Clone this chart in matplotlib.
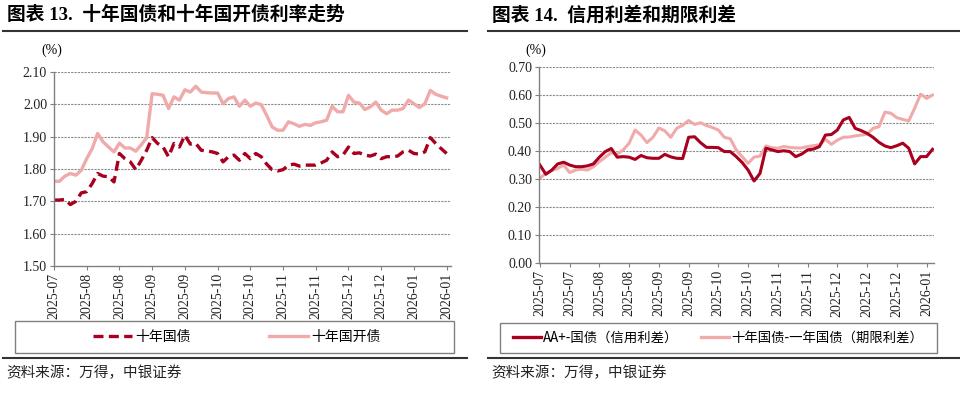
import numpy as np
import matplotlib
matplotlib.use('Agg')
import matplotlib.pyplot as plt
from matplotlib.lines import Line2D
from matplotlib.patches import Rectangle

left_ticks = ['2025-07', '2025-08', '2025-08', '2025-09', '2025-09', '2025-10', '2025-10',
              '2025-11', '2025-11', '2025-12', '2025-12', '2026-01', '2026-01']
gov10 = [1.704, 1.704, 1.706, 1.690, 1.700, 1.726, 1.730, 1.755, 1.786, 1.778, 1.776, 1.760,
         1.848, 1.832, 1.822, 1.798, 1.827, 1.858, 1.897, 1.879, 1.868, 1.838, 1.879, 1.868,
         1.904, 1.877, 1.879, 1.858, 1.856, 1.853, 1.848, 1.822, 1.838, 1.843, 1.827, 1.848,
         1.832, 1.848, 1.838, 1.815, 1.798, 1.794, 1.798, 1.812, 1.815, 1.809, 1.812, 1.812,
         1.812, 1.819, 1.827, 1.853, 1.838, 1.843, 1.868, 1.848, 1.850, 1.843, 1.840, 1.846,
         1.832, 1.838, 1.838, 1.840, 1.853, 1.858, 1.848, 1.846, 1.853, 1.897, 1.879, 1.863,
         1.848]
cdb10 = [1.762, 1.762, 1.778, 1.786, 1.781, 1.796, 1.832, 1.863, 1.910, 1.884, 1.868, 1.853,
         1.880, 1.865, 1.865, 1.855, 1.875, 1.897, 2.033, 2.031, 2.028, 1.987, 2.023, 2.013,
         2.045, 2.038, 2.056, 2.038, 2.036, 2.035, 2.035, 2.002, 2.018, 2.023, 1.994, 2.013,
         1.994, 2.004, 1.999, 1.966, 1.930, 1.920, 1.920, 1.946, 1.940, 1.932, 1.938, 1.935,
         1.943, 1.946, 1.951, 1.994, 1.977, 1.977, 2.028, 2.007, 2.004, 1.984, 1.992, 2.007,
         1.982, 1.971, 1.982, 1.982, 1.987, 2.013, 2.002, 1.990, 2.002, 2.043, 2.031, 2.025,
         2.020]

right_ticks = ['2025-07', '2025-07', '2025-08', '2025-08', '2025-09', '2025-09', '2025-10',
               '2025-10', '2025-11', '2025-11', '2025-12', '2025-12', '2025-12', '2026-01']
credit = [0.351, 0.318, 0.333, 0.355, 0.361, 0.351, 0.345, 0.345, 0.348, 0.355, 0.379, 0.399,
          0.410, 0.379, 0.381, 0.379, 0.371, 0.385, 0.377, 0.375, 0.375, 0.389, 0.380, 0.375,
          0.374, 0.450, 0.452, 0.431, 0.414, 0.414, 0.413, 0.399, 0.399, 0.381, 0.360, 0.333,
          0.294, 0.321, 0.411, 0.405, 0.399, 0.402, 0.399, 0.381, 0.390, 0.405, 0.408, 0.417,
          0.458, 0.460, 0.476, 0.512, 0.521, 0.482, 0.474, 0.464, 0.450, 0.432, 0.419, 0.413,
          0.420, 0.429, 0.411, 0.355, 0.381, 0.381, 0.407]
term = [0.304, 0.321, 0.331, 0.339, 0.351, 0.324, 0.333, 0.336, 0.333, 0.345, 0.363, 0.379,
        0.395, 0.390, 0.405, 0.429, 0.476, 0.458, 0.431, 0.450, 0.483, 0.473, 0.450, 0.482,
        0.493, 0.510, 0.496, 0.502, 0.492, 0.485, 0.476, 0.450, 0.445, 0.405, 0.381, 0.357,
        0.379, 0.383, 0.419, 0.413, 0.411, 0.417, 0.414, 0.412, 0.412, 0.417, 0.420, 0.423,
        0.443, 0.425, 0.440, 0.450, 0.451, 0.455, 0.458, 0.461, 0.482, 0.488, 0.540, 0.536,
        0.520, 0.514, 0.508, 0.554, 0.604, 0.589, 0.601]

DARK = '#A8001E'
PINK = '#F0AAAA'
GRID = '#8C8C8C'
CJK = ['Noto Sans CJK SC', 'DejaVu Sans']
SERIF = ['Liberation Serif', 'Noto Sans CJK SC']

W, H = 960, 401
fx = lambda px: px / W
fy = lambda py: 1 - py / H

fig = plt.figure(figsize=(9.6, 4.01), dpi=100)


def style_axes(ax, yticks, xtick_pos, xtick_labels):
    for s in ['top', 'right']:
        ax.spines[s].set_visible(False)
    for s in ['left', 'bottom']:
        ax.spines[s].set_color('#808080')
        ax.spines[s].set_linewidth(1.0)
    ax.set_yticks(yticks)
    ax.set_yticklabels(['%.2f' % v for v in yticks], family=SERIF, fontsize=10, color='#222222')
    ax.set_xticks(xtick_pos)
    ax.set_xticklabels(xtick_labels, rotation=90, family=SERIF, fontsize=10, color='#222222')
    ax.tick_params(axis='both', length=3, width=0.8, color='#808080', pad=2)
    for v in yticks[1:]:
        ax.axhline(v, color=GRID, lw=0.8, ls=(0, (2, 1)), zorder=0)
    ax.set_ylim(yticks[0], yticks[-1])


def frame_texts(x0, x1, title, legend_box):
    fig.text(fx(x0 + 4), fy(15), title, family=SERIF, fontsize=13.5, fontweight='bold',
             va='center', ha='left')
    fig.add_artist(Line2D([fx(x0), fx(x1)], [fy(31), fy(31)], color='#333333', lw=1.5))
    fig.add_artist(Line2D([fx(x0), fx(x1)], [fy(358), fy(358)], color='#333333', lw=1.5))
    fig.text(fx(x0 + 3), fy(373), '资料来源：万得，中银证券', family=CJK, fontsize=10.5,
             va='center', ha='left', color='#222222')
    bx0, by0, bx1, by1 = legend_box
    fig.add_artist(Rectangle((fx(bx0), fy(by1)), (bx1 - bx0) / W, (by1 - by0) / H,
                             transform=fig.transFigure, fill=False, edgecolor='#808080', lw=1.0))


# ====== left chart: 10y government vs 10y CDB
ax1 = fig.add_axes([fx(54), fy(266), 397 / W, 194 / H])
x1 = np.arange(len(gov10))
ax1.plot(x1, cdb10, color=PINK, lw=2.4, solid_joinstyle='round')
ax1.plot(x1, gov10, color=DARK, lw=2.4, ls=(0, (3, 1.6)))
style_axes(ax1, [1.50, 1.60, 1.70, 1.80, 1.90, 2.00, 2.10], np.arange(0, 73, 6), left_ticks)
ax1.set_xlim(0, 72.8)
fig.text(fx(52), fy(50), '(%)', family=SERIF, fontsize=10, ha='center', va='center')
frame_texts(3, 467, '图表 13.  十年国债和十年国开债利率走势', (15, 321, 454, 353))
h1 = [Line2D([], [], color=DARK, lw=2.4, ls=(0, (3, 1.6))), Line2D([], [], color=PINK, lw=2.4)]
ax1.legend(h1, ['十年国债', '十年国开债'], loc='center', bbox_to_anchor=(fx(237), fy(337)),
           bbox_transform=fig.transFigure, ncol=2, frameon=False, prop={'family': CJK, 'size': 10},
           handlelength=2.8, handletextpad=0.25, columnspacing=5.6)

# ====== right chart: credit spread and term spread
ax2 = fig.add_axes([fx(539), fy(263.3), 395 / W, 196 / H])
x2 = np.arange(len(credit))
ax2.plot(x2, term, color=PINK, lw=2.2, solid_joinstyle='round')
ax2.plot(x2, credit, color=DARK, lw=2.2, solid_joinstyle='round')
style_axes(ax2, [0.00, 0.10, 0.20, 0.30, 0.40, 0.50, 0.60, 0.70], np.arange(0, 66, 5), right_ticks)
ax2.set_xlim(-0.15, 66.25)
fig.text(fx(536), fy(50), '(%)', family=SERIF, fontsize=10, ha='center', va='center')
frame_texts(488, 960, '图表 14.  信用利差和期限利差', (500, 323, 937, 353))
h2 = [Line2D([], [], color=DARK, lw=2.4), Line2D([], [], color=PINK, lw=2.4)]
ax2.legend(h2, ['AA+-国债（信用利差）', '十年国债-一年国债（期限利差）'], loc='center',
           bbox_to_anchor=(fx(718), fy(338)), bbox_transform=fig.transFigure, ncol=2,
           frameon=False, prop={'family': CJK, 'size': 9.6},
           handlelength=2.1, handletextpad=0.15, columnspacing=1.7)

fig.savefig('out.png', dpi=100)
